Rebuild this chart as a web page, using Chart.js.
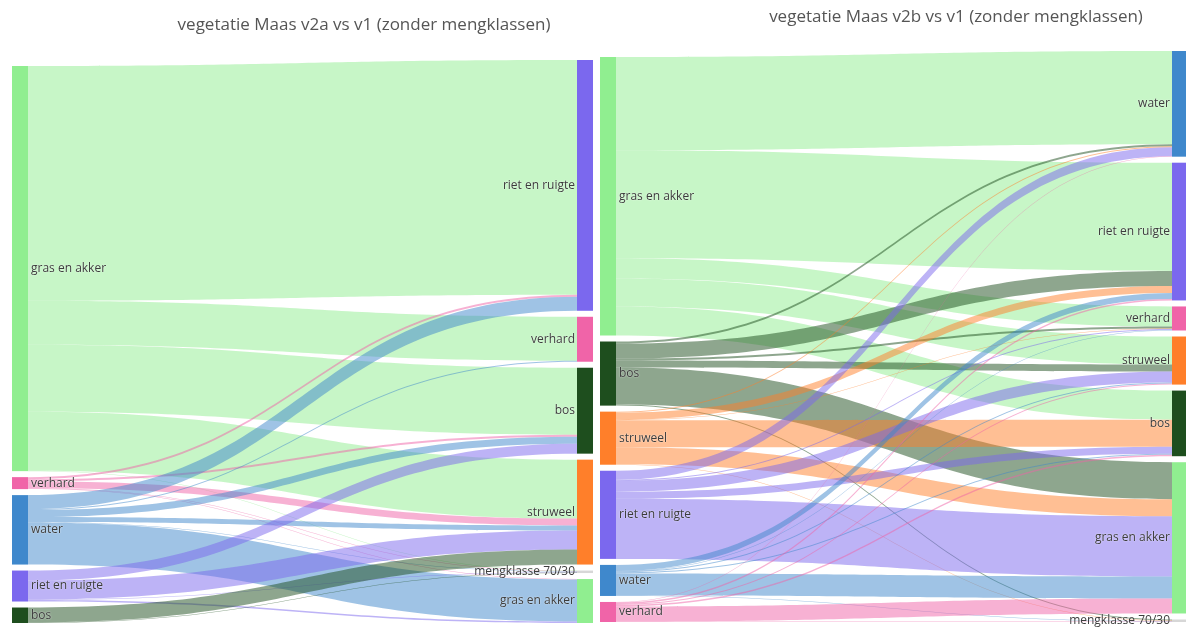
<!DOCTYPE html>
<html>
<head>
<meta charset="utf-8">
<script src="https://cdn.jsdelivr.net/npm/chart.js@4.4.1/dist/chart.umd.min.js"></script>
<style>
  html, body { margin: 0; padding: 0; background: #ffffff; width: 1186px; height: 630px; overflow: hidden; }
  .wrap { position: absolute; top: 0; height: 630px; }
</style>
</head>
<body>
<div class="wrap" style="left:0px;width:600px"><canvas id="c1" width="600" height="630"></canvas></div>
<div class="wrap" style="left:590px;width:610px"><canvas id="c2" width="610" height="630"></canvas></div>
<script>
// ---------------- DATA ----------------
// Chart 1: v2a (left column) -> v1 (right column)
const titleV2a = 'vegetatie Maas v2a vs v1 (zonder mengklassen)';
const sourcesV2a = ['gras en akker', 'verhard', 'water', 'riet en ruigte', 'bos'];
const targetsV2a = ['riet en ruigte', 'verhard', 'bos', 'struweel', 'mengklasse 70/30', 'gras en akker'];
// flows from each source, in order of targetsV2a
const v2aFromGras    = [235, 44, 67, 59, 0.5, 0];
const v2aFromVerhard = [2, 0, 2, 7, 0.5, 0.5];
const v2aFromWater   = [14, 1, 7, 5, 0.5, 42];
const v2aFromRiet    = [0, 0, 10, 19, 0.5, 1.5];
const v2aFromBos     = [0, 0, 0, 15, 0.5, 0];

// Chart 2: v2b (left column) -> v1 (right column)
const titleV2b = 'vegetatie Maas v2b vs v1 (zonder mengklassen)';
const sourcesV2b = ['gras en akker', 'bos', 'struweel', 'riet en ruigte', 'water', 'verhard'];
const targetsV2b = ['water', 'riet en ruigte', 'verhard', 'struweel', 'bos', 'gras en akker', 'mengklasse 70/30'];
// flows from each source, in order of targetsV2b
const v2bFromGras     = [93, 108, 20, 28, 29, 0, 0];
const v2bFromBos      = [2, 15, 2, 7, 0, 37, 1];
const v2bFromStruweel = [1, 7, 0.5, 0, 27, 17, 0.5];
const v2bFromRiet     = [9, 0, 1, 11, 7, 60, 0];
const v2bFromWater    = [0, 6, 0.5, 1, 1, 22, 0.5];
const v2bFromVerhard  = [0.5, 1.5, 0, 1, 1.5, 15, 0.5];

// ---------------- STYLE ----------------
const classColors = {
  'gras en akker': [144, 238, 144],
  'verhard': [240, 100, 168],
  'water': [63, 136, 204],
  'riet en ruigte': [123, 104, 238],
  'bos': [30, 78, 30],
  'struweel': [255, 127, 42],
  'mengklasse 70/30': [215, 215, 215]
};
const NODE_W = 16;
const NODE_PAD = 6;
const LINK_ALPHA = 0.5;

function rgb(c, a) { return a === undefined ? `rgb(${c[0]},${c[1]},${c[2]})` : `rgba(${c[0]},${c[1]},${c[2]},${a})`; }

// --------------- SANKEY LAYOUT (in value units) ---------------
function layoutSankey(sources, targets, matrix, pad) {
  const srcVal = matrix.map(r => r.reduce((a, b) => a + b, 0));
  const tgtVal = targets.map((t, j) => matrix.reduce((a, r) => a + r[j], 0));
  const srcExt = srcVal.reduce((a, b) => a + b, 0) + pad * (sources.length - 1);
  const tgtExt = tgtVal.reduce((a, b) => a + b, 0) + pad * (targets.length - 1);
  const yMax = Math.max(srcExt, tgtExt);
  const srcNodes = [], tgtNodes = [];
  let y = yMax - srcExt;
  sources.forEach((s, i) => { srcNodes.push({ name: s, y0: y, y1: y + srcVal[i] }); y += srcVal[i] + pad; });
  y = yMax - tgtExt;
  targets.forEach((t, j) => { tgtNodes.push({ name: t, y0: y, y1: y + tgtVal[j] }); y += tgtVal[j] + pad; });
  const links = [];
  const tgtOff = tgtNodes.map(n => n.y0);
  const srcOff = srcNodes.map(n => n.y0);
  const sy = {};
  sources.forEach((s, i) => {
    targets.forEach((t, j) => {
      const v = matrix[i][j];
      if (v > 0) { sy[i + '_' + j] = srcOff[i]; srcOff[i] += v; }
    });
  });
  targets.forEach((t, j) => {
    sources.forEach((s, i) => {
      const v = matrix[i][j];
      if (v > 0) {
        links.push({ src: s, v: v, sy0: sy[i + '_' + j], ty0: tgtOff[j] });
        tgtOff[j] += v;
      }
    });
  });
  links.sort((a, b) => sources.indexOf(a.src) - sources.indexOf(b.src));
  return { srcNodes, tgtNodes, links, yMax };
}

const sankeyPlugin = {
  id: 'sankeyDraw',
  beforeDatasetsDraw(chart, args, opts) {
    const L = opts.layout;
    const xs = chart.scales.x, ys = chart.scales.y;
    const ctx = chart.ctx;
    const xL = xs.getPixelForValue(0), xR = xs.getPixelForValue(1);
    const x0 = xL + NODE_W, x1 = xR - NODE_W, xm = (x0 + x1) / 2;
    ctx.save();
    L.links.forEach(l => {
      const a0 = ys.getPixelForValue(l.sy0), a1 = ys.getPixelForValue(l.sy0 + l.v);
      const b0 = ys.getPixelForValue(l.ty0), b1 = ys.getPixelForValue(l.ty0 + l.v);
      ctx.beginPath();
      ctx.moveTo(x0, a0);
      ctx.bezierCurveTo(xm, a0, xm, b0, x1, b0);
      ctx.lineTo(x1, b1);
      ctx.bezierCurveTo(xm, b1, xm, a1, x0, a1);
      ctx.closePath();
      ctx.fillStyle = rgb(classColors[l.src], LINK_ALPHA);
      ctx.fill();
    });
    const drawNode = (n, x) => {
      const p0 = ys.getPixelForValue(n.y0), p1 = ys.getPixelForValue(n.y1);
      ctx.fillStyle = rgb(classColors[n.name]);
      ctx.fillRect(x, p0, NODE_W, Math.max(1, p1 - p0));
    };
    L.srcNodes.forEach(n => drawNode(n, xL));
    L.tgtNodes.forEach(n => drawNode(n, x1));
    ctx.font = '12px "Open Sans"';
    ctx.fillStyle = '#3c3c3c';
    ctx.textBaseline = 'middle';
    ctx.shadowColor = 'rgba(255,255,255,0.9)';
    ctx.shadowBlur = 1.5;
    L.srcNodes.forEach(n => {
      const yc = (ys.getPixelForValue(n.y0) + ys.getPixelForValue(n.y1)) / 2;
      ctx.textAlign = 'left';
      ctx.fillText(n.name, xL + NODE_W + 3, yc);
    });
    L.tgtNodes.forEach(n => {
      const yc = (ys.getPixelForValue(n.y0) + ys.getPixelForValue(n.y1)) / 2;
      ctx.textAlign = 'right';
      ctx.fillText(n.name, x1 - 2, yc);
    });
    ctx.shadowBlur = 0;
    ctx.font = '17px "Open Sans"';
    ctx.fillStyle = '#555555';
    ctx.textAlign = 'center';
    ctx.textBaseline = 'middle';
    ctx.fillText(opts.title, opts.titleX, opts.titleY);
    ctx.restore();
  }
};

function makeChart(id, title, sources, targets, matrix, padding, titleX, titleY) {
  const L = layoutSankey(sources, targets, matrix, NODE_PAD);
  return new Chart(document.getElementById(id), {
    type: 'scatter',
    data: { datasets: [{ data: [], pointRadius: 0 }] },
    options: {
      responsive: false,
      animation: false,
      events: [],
      layout: { padding: padding },
      scales: {
        x: { type: 'linear', min: 0, max: 1, display: false },
        y: { type: 'linear', min: 0, max: L.yMax, reverse: true, display: false }
      },
      plugins: {
        legend: { display: false },
        tooltip: { enabled: false },
        title: { display: false },
        sankeyDraw: { layout: L, title: title, titleX: titleX, titleY: titleY }
      }
    },
    plugins: [sankeyPlugin]
  });
}

makeChart('c1', titleV2a, sourcesV2a, targetsV2a,
  [v2aFromGras, v2aFromVerhard, v2aFromWater, v2aFromRiet, v2aFromBos],
  { left: 12, right: 7, top: 60, bottom: 7 }, 364, 25);

makeChart('c2', titleV2b, sourcesV2b, targetsV2b,
  [v2bFromGras, v2bFromBos, v2bFromStruweel, v2bFromRiet, v2bFromWater, v2bFromVerhard],
  { left: 10, right: 12, top: 51, bottom: 8 }, 366, 17);
</script>
</body>
</html>
